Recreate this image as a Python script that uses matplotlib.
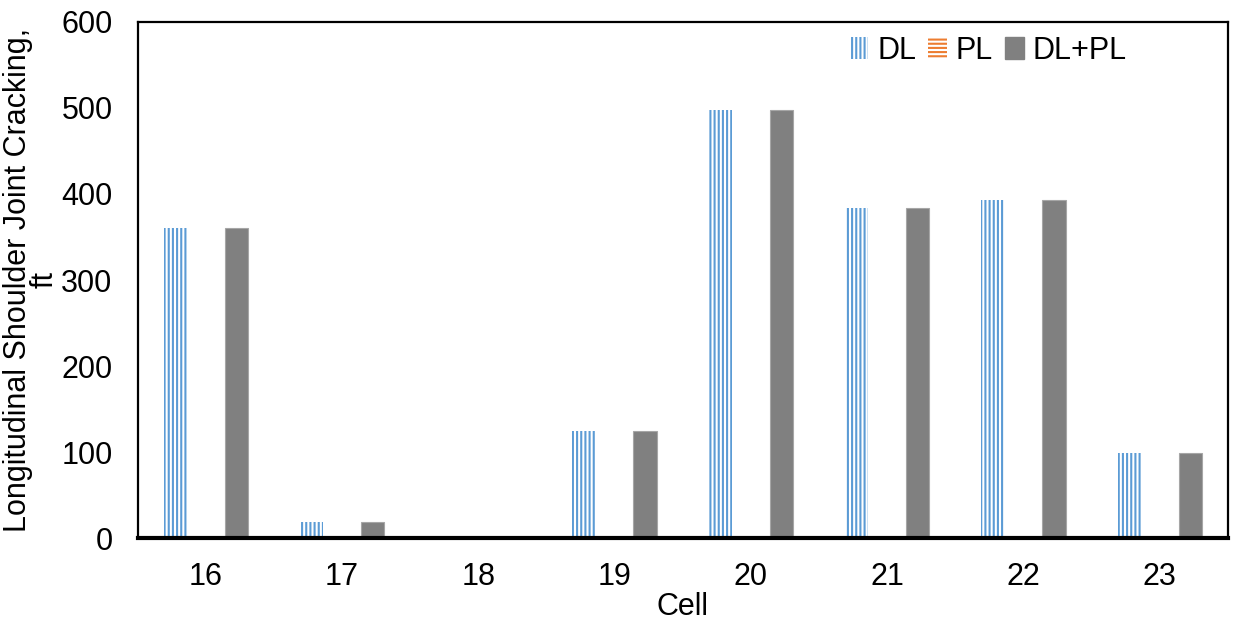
import matplotlib.pyplot as plt
import numpy as np
from matplotlib.patches import Rectangle

plt.rcParams["font.family"] = ["Liberation Sans", "DejaVu Sans"]
plt.rcParams["hatch.linewidth"] = 1.5

cells = ["16", "17", "18", "19", "20", "21", "22", "23"]
dl = [360, 19, 0, 124, 498, 384, 393, 99]
pl = [0, 0, 0, 0, 0, 0, 0, 0]
dl_pl = [360, 19, 0, 124, 498, 384, 393, 99]

BLUE = "#5B9BD5"
ORANGE = "#ED7D31"
GREY = "#808080"
FS = 22

fig = plt.figure(figsize=(12.39, 6.25), dpi=100)
ax = fig.add_axes([0.111, 0.139, 0.880, 0.826])

x = np.arange(len(cells))
w = 0.17
off = 0.224
ax.bar(x - off, dl, width=w, facecolor="white", edgecolor=BLUE, linewidth=0,
       hatch="||||", zorder=3)
ax.bar(x, pl, width=w, facecolor="white", edgecolor=ORANGE, linewidth=0,
       hatch="----", zorder=3)
ax.bar(x + off, dl_pl, width=w, color=GREY, edgecolor="#a6a6a6", linewidth=0.8,
       zorder=3)

ax.set_xlim(-0.5, len(cells) - 0.5)
ax.set_ylim(0, 600)
ax.set_yticks(np.arange(0, 601, 100))
ax.set_xticks(x)
ax.set_xticklabels(cells)
ax.tick_params(axis="x", length=0, labelsize=FS, pad=17)
ax.tick_params(axis="y", length=0, labelsize=FS, pad=18)

for s in ["top", "right", "left"]:
    ax.spines[s].set_linewidth(1.6)
ax.spines["bottom"].set_linewidth(3)
ax.spines["bottom"].set_zorder(4)

ax.set_xlabel("Cell", fontsize=FS, labelpad=0)
ax.set_ylabel("Longitudinal Shoulder Joint Cracking,\nft", fontsize=FS,
              labelpad=1, linespacing=0.85)

handles = [
    Rectangle((0, 0), 1, 1, facecolor="white", edgecolor=BLUE, linewidth=0, hatch="||||"),
    Rectangle((0, 0), 1, 1, facecolor="white", edgecolor=ORANGE, linewidth=0, hatch="----"),
    Rectangle((0, 0), 1, 1, facecolor=GREY, edgecolor=GREY),
]
ax.legend(handles, ["DL", "PL", "DL+PL"], loc="upper right", ncol=3,
          frameon=False, fontsize=FS, handlelength=0.6, handleheight=0.7,
          handletextpad=0.3, columnspacing=0.4, borderaxespad=0.3,
          bbox_to_anchor=(0.927, 1.015))

fig.savefig("out.png", dpi=100, facecolor="white")
